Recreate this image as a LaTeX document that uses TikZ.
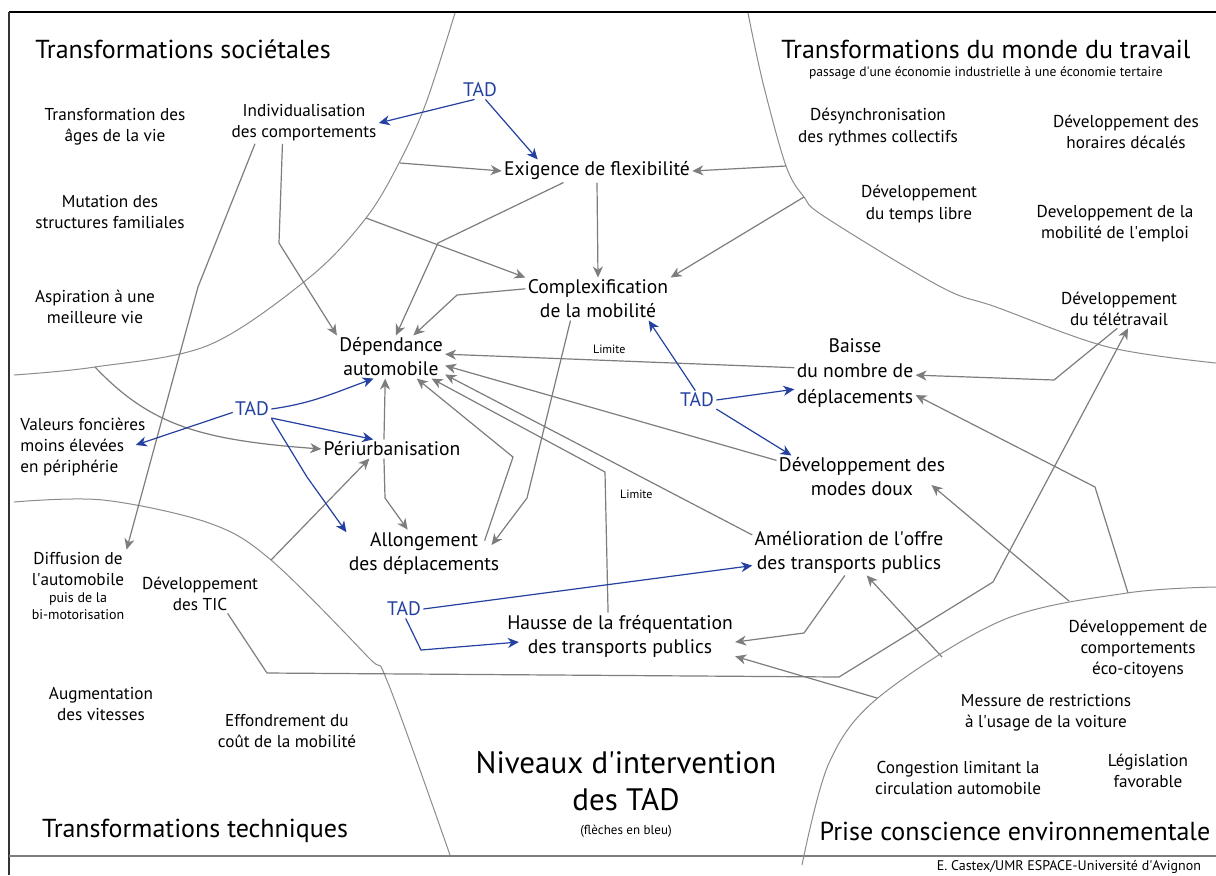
\documentclass[tikz,border=0pt]{standalone}
\usepackage{fontspec}
\setmainfont{PT Sans}
\usepackage{xcolor}
\usetikzlibrary{arrows.meta}

\definecolor{lineGrey}{RGB}{125,125,125}
\definecolor{zoneGrey}{RGB}{140,140,140}
\definecolor{tadBlue}{RGB}{36,64,160}

\newcommand{\TitleSize}{\fontsize{13}{15}\selectfont}
\newcommand{\EffectSize}{\fontsize{9.8}{12}\selectfont}
\newcommand{\FactorSize}{\fontsize{8.6}{10.6}\selectfont}
\newcommand{\SmallSize}{\fontsize{7}{8}\selectfont}
\newcommand{\ap}{\textquotesingle}

\begin{document}
\begin{tikzpicture}[x=0.5pt,y=-0.5pt,
    title/.style={font=\TitleSize, inner sep=1pt},
    effect/.style={font=\EffectSize, align=center, inner sep=1pt},
    factor/.style={font=\FactorSize, align=center, inner sep=1pt},
    tad/.style={font=\EffectSize, text=tadBlue, inner sep=1pt},
    limite/.style={font=\fontsize{6}{7}\selectfont, inner sep=1pt},
    zone/.style={draw=zoneGrey, line width=0.5pt},
    conn/.style={draw=lineGrey, line width=0.6pt, -{Stealth[length=5.5pt,width=5pt,inset=1.7pt]}},
    tadarrow/.style={draw=tadBlue, line width=0.6pt, -{Stealth[length=5.5pt,width=5pt,inset=1.7pt]}}]

    \fill[white] (0,0) rectangle (1216,875);
    \useasboundingbox (0,0) rectangle (1216,875);

    % frame
    \draw[line width=1pt] (9,12) -- (1216,12);
    \draw[line width=0.6pt, black!80] (9,12) -- (9,875);
    \draw[line width=0.6pt, lineGrey] (9,856) -- (1216,856);

    % zones
    \draw[zone] plot[smooth, tension=0.55] coordinates {(455,13) (426,103) (399,163) (366,218) (310,277) (209,345) (95,367) (14,375)};
    \draw[zone] plot[smooth, tension=0.55] coordinates {(748,13) (763,83) (786,166) (804,197) (825,217) (941,287) (996,307) (1108,347) (1216,363)};
    \draw[zone] plot[smooth, tension=0.55] coordinates {(14,502) (103,500) (209,523) (271,560) (368,657) (388,683) (450,855)};
    \draw[zone] plot[smooth, tension=0.55] coordinates {(1216,587) (1127,593) (1003,620) (879,697) (829,763) (802,865)};

    % zone titles
    \node[title] (societal) at (183,49) {Transformations sociétales};
    \node[title] (travail) at (986,49) {Transformations du monde du travail};
    \node[font=\fontsize{6.8}{8}\selectfont] (tertiaire) at (986,73) {passage d\ap une économie industrielle à une économie tertaire};
    \node[title] (technique) at (195,831) {Transformations techniques};
    \node[title] (environ) at (1015,831) {Prise conscience environnementale};
    \node[font=\fontsize{15.5}{18.5}\selectfont, align=center] (niveaux) at (626,781) {Niveaux d\ap intervention\\des TAD};
    \node[font=\fontsize{6.5}{8}\selectfont] (enbleu) at (626,831) {(flèches en bleu)};
    \node[font=\fontsize{7}{8}\selectfont, anchor=east] (auteur) at (1208,867) {E. Castex/UMR ESPACE-Université d\ap Avignon};

    % factors
    \node[factor] (ages) at (115,127) {Transformation des\\âges de la vie};
    \node[factor] (familles) at (110,212) {Mutation des\\structures familiales};
    \node[factor] (aspiration) at (95,307) {Aspiration à une\\meilleure vie};
    \node[factor, align=left, anchor=west] (foncier) at (18,447) {Valeurs foncières\\moins élevées\\en périphérie};
    \node[factor] (diffusion) at (78,586) {Diffusion de\\l\ap automobile\\[-2pt]{\SmallSize puis de la}\\[-2pt]{\SmallSize bi-motorisation}};
    \node[factor] (tic) at (200,594) {Développement\\des TIC};
    \node[factor] (vitesses) at (101,704) {Augmentation\\des vitesses};
    \node[factor] (cout) at (287,731) {Effondrement du\\coût de la mobilité};
    \node[factor] (indiv) at (304,123) {Individualisation\\des comportements};
    \node[factor] (desync) at (878,127) {Désynchronisation\\des rythmes collectifs};
    \node[factor] (horaires) at (1126,132) {Développement des\\horaires décalés};
    \node[factor] (loisirs) at (919,204) {Développement\\du temps libre};
    \node[factor] (emploi) at (1115,224) {Developpement de la\\mobilité de l\ap emploi};
    \node[factor] (teletravail) at (1119,309) {Développement\\du télétravail};
    \node[factor] (ecocit) at (1138,649) {Développement de\\comportements\\éco-citoyens};
    \node[factor] (restrict) at (1046,713) {Messure de restrictions\\à l\ap usage de la voiture};
    \node[factor] (congestion) at (958,778) {Congestion limitant la\\circulation automobile};
    \node[factor] (legis) at (1148,771) {Législation\\favorable};

    % effects
    \node[effect] (exig) at (597,171) {Exigence de flexibilité};
    \node[effect] (complex) at (598,299) {Complexification\\de la mobilité};
    \node[effect] (dep) at (391,357) {Dépendance\\automobile};
    \node[effect] (peri) at (392,449) {Périurbanisation};
    \node[effect] (allong) at (424,553) {Allongement\\des déplacements};
    \node[effect] (hausse) at (620,636) {Hausse de la fréquentation\\des transports publics};
    \node[effect] (amelio) at (849,552) {Amélioration de l\ap offre\\des transports publics};
    \node[effect, font=\fontsize{9.8}{12.8}\selectfont] (baisse) at (855,373) {Baisse\\du nombre de\\déplacements};
    \node[effect] (doux) at (862,477) {Développement des\\modes doux};

    % TAD
    \node[tad] (tadA) at (480,90) {TAD};
    \node[tad] (tadB) at (252,409) {TAD};
    \node[tad] (tadC) at (697,400) {TAD};
    \node[tad] (tadD) at (404,609) {TAD};

    % points on the zone lines
    \coordinate (z1) at (400,163);
    \coordinate (z2) at (366,218);
    \coordinate (z3) at (786,166);
    \coordinate (z4) at (804,197);
    \coordinate (z5) at (1128,593);
    \coordinate (z6) at (1069,601);
    \coordinate (z7) at (942,657);
    \coordinate (z8) at (877,698);
    \coordinate (z9) at (271,560);
    \coordinate (z10) at (95,367);

    % grey links
    \draw[conn] (indiv.-136) -- (279,243) -- (dep.north west);
    \draw[conn] (z1) -- (exig.west);
    \draw[conn] (exig.-161) -- (438,243) -- (dep.77);
    \draw[conn] (exig.south) -- (complex.north);
    \draw[conn] (z2) -- (complex.north west);
    \draw[conn] (complex.172) -- (457,295) -- (dep.44);
    \draw[conn] (z3) -- (exig.east);
    \draw[conn] (z4) -- (complex.north east);
    \draw[conn] (baisse.175) -- node[limite, pos=0.53, above=2pt] (limA) {Limite} (dep.3);
    \draw[conn] (teletravail.-95) -- (1054,380) -- (baisse.-2);
    \draw[conn] (z5) -- (1095,487) -- (baisse.-20);
    \draw[conn] (z6) -- ([shift={(-16,8)}]doux.east);
    \draw[conn] (tic.-35) -- (267,673) -- (839,677) -- (993,582) -- (teletravail.-65);
    \draw[conn] (z7) -- (amelio.-53);
    \draw[conn] (z8) -- (hausse.-10);
    \draw[conn] (amelio.-100) -- (804,633) -- (hausse.-3);
    \draw[conn] (amelio.170) -- (dep.-18);
    \draw[conn] (doux.169) -- (dep.-9);
    \draw[conn] (hausse.117) -- node[limite, pos=0.84, right=6pt] (limB) {Limite} (605,472) -- (dep.-28);
    \draw[conn] ([shift={(-17,11)}]allong.north east) -- (513,457) -- (dep.-40);
    \draw[conn] (complex.-142) -- (527,498) -- ([shift={(-10,-8)}]allong.east);
    \draw[conn] (peri.130) -- (dep.-105);
    \draw[conn] (peri.-130) -- (385,498) -- (allong.125);
    \draw[conn] (z9) -- (peri.-157);
    \draw[conn] (z10) .. controls (150,425) and (200,440) .. (peri.west);
    \draw[conn] (indiv.-157) -- (198,287) -- (diffusion.north east);

    % blue links
    \draw[tadarrow] (tadA.-120) -- (indiv.east);
    \draw[tadarrow] (tadA.-60) -- (exig.169);
    \draw[tadarrow] (tadB.east) to[out=8, in=200] (dep.-129);
    \draw[tadarrow] (tadB.-25) -- (peri.153);
    \draw[tadarrow] (tadB.190) -- ([shift={(-12,-2)}]foncier.east);
    \draw[tadarrow] (tadB.south east) -- (307,477) -- (allong.165);
    \draw[tadarrow] (tadC.100) -- (complex.-23);
    \draw[tadarrow] (tadC.east) -- (baisse.195);
    \draw[tadarrow] (tadC.-25) -- (doux.163);
    \draw[tadarrow] (tadD.east) -- (amelio.188);
    \draw[tadarrow] (tadD.-80) -- (421,650) -- ([shift={(14,6)}]hausse.west);
\end{tikzpicture}
\end{document}
